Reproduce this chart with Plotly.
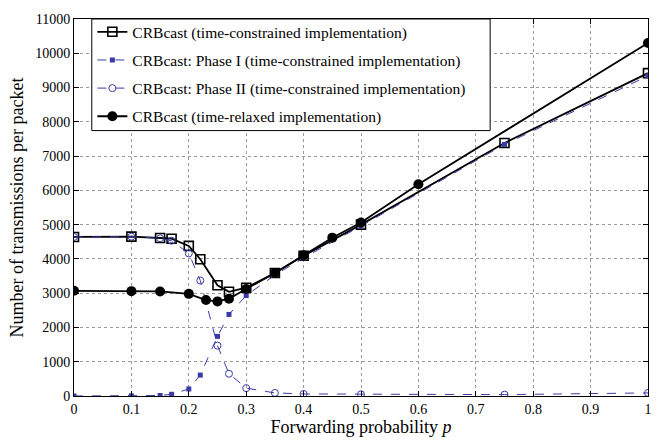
import plotly.graph_objects as go

x_tc = [0, 0.1, 0.15, 0.17, 0.2, 0.22, 0.25, 0.27, 0.3, 0.35, 0.4, 0.5, 0.75, 1.0]
y_tc = [4640, 4650, 4610, 4590, 4380, 3990, 3230, 3040, 3160, 3590, 4090, 5000, 7380, 9420]
y_ph1 = [0, 5, 15, 50, 205, 610, 1740, 2380, 2930, 3530, 4030, 4960, 7340, 9340]
y_ph2 = [4640, 4650, 4600, 4530, 4160, 3370, 1470, 650, 230, 90, 60, 50, 40, 90]
x_tr = [0, 0.1, 0.15, 0.2, 0.23, 0.25, 0.27, 0.3, 0.35, 0.4, 0.45, 0.5, 0.6, 1.0]
y_tr = [3070, 3060, 3050, 2980, 2800, 2760, 2840, 3120, 3590, 4110, 4620, 5060, 6180, 10300]

names = ["CRBcast (time-constrained implementation)",
         "CRBcast: Phase I (time-constrained implementation)",
         "CRBcast: Phase II (time-constrained implementation)",
         "CRBcast (time-relaxed implementation)"]

blue = "#3a3aa8"
fig = go.Figure()
fig.add_trace(go.Scatter(x=x_tc, y=y_tc, name=names[0], mode="lines+markers", legendgroup="a",
                         line=dict(color="black", width=1.8),
                         marker=dict(symbol="square-open", size=9, color="black", line=dict(width=1.6))))
fig.add_trace(go.Scatter(x=x_tc, y=y_ph1, name=names[1], mode="lines+markers", legendgroup="b",
                         line=dict(color=blue, width=1, dash="dash"),
                         marker=dict(symbol="square", size=5, color=blue)))
fig.add_trace(go.Scatter(x=x_tc, y=y_ph2, name=names[2], mode="lines+markers", legendgroup="c",
                         line=dict(color=blue, width=1, dash="dash"),
                         marker=dict(symbol="circle-open", size=7, color=blue, line=dict(width=1))))
fig.add_trace(go.Scatter(x=x_tr, y=y_tr, name=names[3], mode="lines+markers", legendgroup="d",
                         line=dict(color="black", width=1.8),
                         marker=dict(symbol="circle", size=10, color="black")))

font = "Times New Roman, Liberation Serif, serif"
axis_common = dict(showline=True, linecolor="black", linewidth=1, mirror="ticks",
                   ticks="inside", ticklen=5, tickcolor="black",
                   showgrid=True, gridcolor="#9a9a9a", griddash="dot", gridwidth=1,
                   zeroline=False, tickfont=dict(family=font, size=14, color="black"))

# legend frame drawn as a shape (paper coords of the plot area)
fig.add_shape(type="rect", xref="paper", yref="paper", x0=0.031, x1=0.725, y0=0.704, y1=1.0,
              line=dict(color="black", width=1), fillcolor="white", layer="above")

fig.update_layout(
    width=664, height=443,
    margin=dict(l=74, r=12, t=13, b=38),
    plot_bgcolor="white", paper_bgcolor="white",
    font=dict(family=font, color="black"),
    xaxis=dict(range=[0, 1], dtick=0.1, tickformat="~g",
               title=dict(text="Forwarding probability <i>p</i>", font=dict(family=font, size=18), standoff=2),
               **axis_common),
    yaxis=dict(range=[0, 11000], dtick=1000, tickformat="d",
               title=dict(text="Number of transmissions per packet", font=dict(family=font, size=18), standoff=6),
               **axis_common),
    legend=dict(x=0.032, y=1.01, xanchor="left", yanchor="top",
                borderwidth=0, bgcolor="rgba(0,0,0,0)", tracegroupgap=5,
                font=dict(family=font, size=15.5, color="black"), itemwidth=30),
    showlegend=True,
)
fig.write_html("out.html")
